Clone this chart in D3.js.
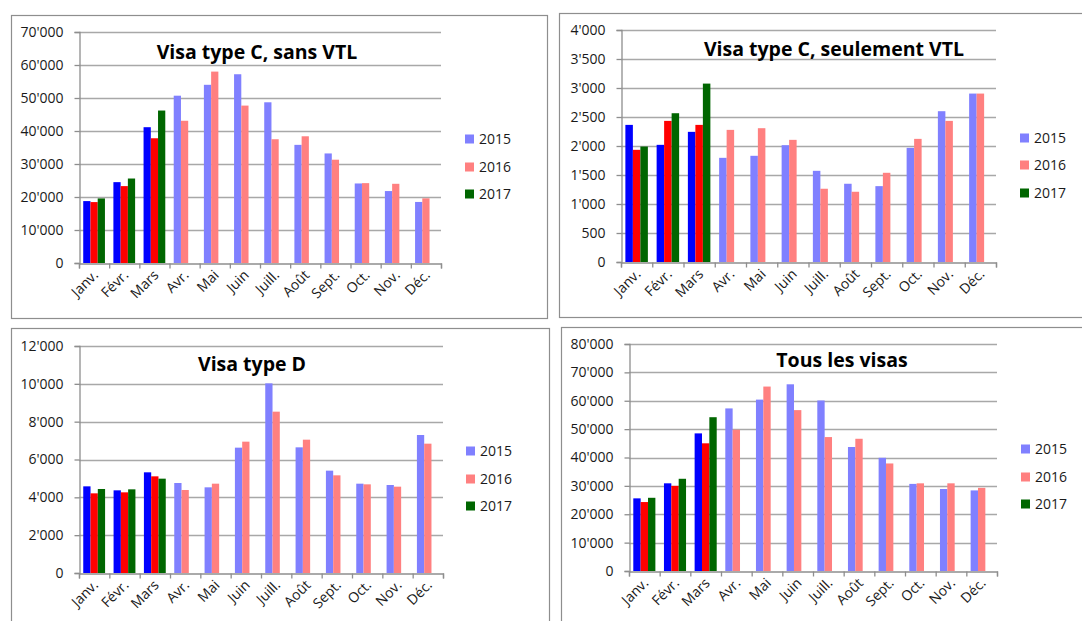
<!DOCTYPE html>
<html>
<head>
<meta charset="utf-8">
<script src="https://cdn.jsdelivr.net/npm/d3@7"></script>
<style>
  html, body { margin: 0; padding: 0; background: #fff; }
  svg { display: block; font-family: "Open Sans", "Noto Sans", sans-serif; }
</style>
</head>
<body>
<svg id="chart" width="1082" height="621"></svg>
<script>
// ---------- data ----------
const months = ["Janv.", "Févr.", "Mars", "Avr.", "Mai", "Juin", "Juill.", "Août", "Sept.", "Oct.", "Nov.", "Déc."];
const years = ["2015", "2016", "2017"];
const currentMonths = ["Janv.", "Févr.", "Mars"];

const titles = ["Visa type C, sans VTL", "Visa type C, seulement VTL", "Visa type D", "Tous les visas"];

const sansVTL2015 = [18760, 24500, 41150, 50700, 54000, 57200, 48700, 35800, 33200, 24100, 21800, 18500];
const sansVTL2016 = [18460, 23300, 37800, 43100, 58000, 47700, 37500, 38400, 31300, 24200, 24000, 19600];
const sansVTL2017 = [19570, 25600, 46200];

const seulVTL2015 = [2364, 2020, 2244, 1796, 1831, 2014, 1572, 1349, 1308, 1968, 2600, 2904];
const seulVTL2016 = [1934, 2433, 2364, 2278, 2307, 2106, 1263, 1211, 1538, 2123, 2433, 2904];
const seulVTL2017 = [1991, 2565, 3076];

const typeD2015 = [4581, 4370, 5322, 4758, 4529, 6626, 10026, 6643, 5410, 4722, 4652, 7295];
const typeD2016 = [4211, 4264, 5110, 4388, 4722, 6943, 8529, 7048, 5163, 4687, 4564, 6837];
const typeD2017 = [4441, 4423, 4987];

const tous2015 = [25600, 30900, 48500, 57300, 60400, 65800, 60100, 43700, 39900, 30700, 28900, 28400];
const tous2016 = [24300, 30000, 45000, 49800, 65000, 56700, 47200, 46600, 37900, 30900, 30900, 29300];
const tous2017 = [25800, 32500, 54200];

const yMaxes = [70000, 4000, 12000, 80000];
const ySteps = [10000, 500, 2000, 10000];

// ---------- styles / layout ----------
const strongColors = { "2015": "#0000ff", "2016": "#ff0000", "2017": "#006600" };
const lightColors  = { "2015": "#8080ff", "2016": "#ff8080", "2017": "#006600" };

const layouts = [
  { box: [11, 15, 536, 303],  plot: { x0: 79,  x1: 441, top: 32,  zero: 263 }, title: [257, 52],  legend: { x: 465,  ys: [139, 167, 194] } },
  { box: [559, 13, 560, 304], plot: { x0: 621, x1: 996, top: 30,  zero: 262 }, title: [834, 49],  legend: { x: 1020, ys: [138, 165, 193] } },
  { box: [11, 328, 538, 320], plot: { x0: 79,  x1: 443, top: 346, zero: 573 }, title: [252, 364], legend: { x: 466,  ys: [451, 479, 506] } },
  { box: [561, 327, 560, 320],plot: { x0: 629, x1: 997, top: 344, zero: 571 }, title: [842, 360], legend: { x: 1021, ys: [449, 477, 504] } }
];

const seriesSets = [
  [sansVTL2015, sansVTL2016, sansVTL2017],
  [seulVTL2015, seulVTL2016, seulVTL2017],
  [typeD2015, typeD2016, typeD2017],
  [tous2015, tous2016, tous2017]
];

const FONT = "'Open Sans', 'Noto Sans', sans-serif";
const LABEL_SIZE = 14;

const locale = d3.formatLocale({ decimal: ".", thousands: "'", grouping: [3], currency: ["", ""] });
const fmt = locale.format(",");

const svg = d3.select("#chart");

seriesSets.forEach((series, i) => {
  const L = layouts[i];
  const g = svg.append("g");

  // panel border
  g.append("rect")
    .attr("x", L.box[0] + 0.5).attr("y", L.box[1] + 0.5)
    .attr("width", L.box[2]).attr("height", L.box[3])
    .attr("fill", "#fff").attr("stroke", "#8e8e8e").attr("stroke-width", 1.2);

  const x = d3.scaleBand().domain(months).range([L.plot.x0, L.plot.x1]).padding(0);
  const bw = x.bandwidth();
  const xs = d3.scaleBand().domain(years).range([bw * 0.14, bw * 0.86]).padding(0);
  const y = d3.scaleLinear().domain([0, yMaxes[i]]).range([L.plot.zero, L.plot.top]);
  const tickVals = d3.range(0, yMaxes[i] + ySteps[i] / 2, ySteps[i]);

  // gridlines
  g.append("g").selectAll("line").data(tickVals.slice(1)).join("line")
    .attr("x1", L.plot.x0).attr("x2", L.plot.x1)
    .attr("y1", d => Math.round(y(d)) + 0.5).attr("y2", d => Math.round(y(d)) + 0.5)
    .attr("stroke", "#a8a8a8").attr("stroke-width", 1.3);

  // bars
  const barData = [];
  months.forEach((m, mi) => {
    years.forEach((yr, yi) => {
      const v = series[yi][mi];
      if (v !== undefined && v !== null) {
        barData.push({ m, yr, v, strong: currentMonths.includes(m) });
      }
    });
  });
  g.append("g").selectAll("rect").data(barData).join("rect")
    .attr("x", d => x(d.m) + xs(d.yr))
    .attr("width", xs.bandwidth())
    .attr("y", d => y(d.v))
    .attr("height", d => y(0) - y(d.v))
    .attr("fill", d => d.strong ? strongColors[d.yr] : lightColors[d.yr]);

  // y axis
  const yAxis = g.append("g").attr("transform", `translate(${L.plot.x0 + 0.5},0)`)
    .call(d3.axisLeft(y).tickValues(tickVals).tickFormat(fmt).tickSize(5).tickPadding(11));
  yAxis.attr("font-family", FONT).attr("font-size", LABEL_SIZE);
  yAxis.select(".domain").attr("stroke", "#8e8e8e").attr("stroke-width", 1.3);
  yAxis.selectAll(".tick line").attr("stroke", "#8e8e8e").attr("stroke-width", 1.3);
  yAxis.selectAll(".tick text").attr("fill", "#1a1a1a");

  // x axis: boundary ticks
  const xi = d3.scaleLinear().domain([0, months.length]).range([L.plot.x0, L.plot.x1]);
  const xAxis = g.append("g").attr("transform", `translate(0,${L.plot.zero + 0.5})`)
    .call(d3.axisBottom(xi).tickValues(d3.range(months.length + 1)).tickFormat("").tickSize(5));
  xAxis.select(".domain").attr("stroke", "#8e8e8e").attr("stroke-width", 1.3);
  xAxis.selectAll(".tick line").attr("stroke", "#8e8e8e").attr("stroke-width", 1.3);

  // x labels rotated
  g.append("g").selectAll("text").data(months).join("text")
    .attr("transform", d => `translate(${x(d) + bw / 2 + 5},${L.plot.zero + 13}) rotate(-45)`)
    .attr("text-anchor", "end")
    .attr("font-family", FONT)
    .attr("font-size", LABEL_SIZE).attr("fill", "#1a1a1a")
    .text(d => d);

  // title
  g.append("text")
    .attr("x", L.title[0]).attr("y", L.title[1] + 7)
    .attr("text-anchor", "middle")
    .attr("font-family", FONT)
    .attr("font-size", 19.5).attr("font-weight", "bold").attr("fill", "#000")
    .text(titles[i]);

  // legend
  const leg = g.append("g");
  years.forEach((yr, yi) => {
    leg.append("rect")
      .attr("x", L.legend.x).attr("y", L.legend.ys[yi] - 4.5)
      .attr("width", 9).attr("height", 9)
      .attr("fill", lightColors[yr]);
    leg.append("text")
      .attr("x", L.legend.x + 14).attr("y", L.legend.ys[yi] + 5)
      .attr("font-family", FONT)
      .attr("font-size", LABEL_SIZE).attr("fill", "#1a1a1a")
      .text(yr);
  });
});
</script>
</body>
</html>
